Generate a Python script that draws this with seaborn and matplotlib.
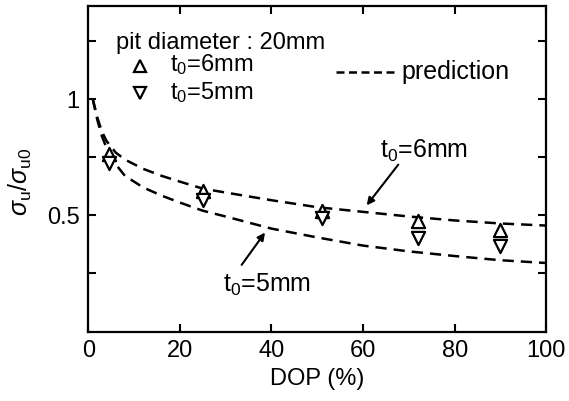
import numpy as np
import pandas as pd
import matplotlib
matplotlib.use("Agg")
import matplotlib.pyplot as plt
import seaborn as sns

dop_exp = [4.5, 25, 51, 72, 90]
ratio_t6 = [0.762, 0.603, 0.517, 0.474, 0.438]
ratio_t5 = [0.726, 0.568, 0.489, 0.403, 0.369]

# Prediction curves
dop_pred = [1, 2, 3, 4, 6, 8, 12, 16, 20, 25, 30, 40, 50, 60, 70, 80, 90, 100]
pred_t6 = [1.0, 0.92, 0.86, 0.82, 0.77, 0.74, 0.70, 0.67, 0.645, 0.615, 0.598,
           0.565, 0.535, 0.515, 0.495, 0.478, 0.465, 0.456]
pred_t5 = [1.0, 0.91, 0.84, 0.79, 0.72, 0.67, 0.62, 0.585, 0.555, 0.52, 0.495,
           0.443, 0.405, 0.37, 0.345, 0.325, 0.307, 0.295]

x_ticks = [0, 20, 40, 60, 80, 100]
y_ticks = [0.25, 0.5, 0.75, 1.0, 1.25]
y_tick_labels = ["", "0.5", "", "1", ""]

sns.set_style("ticks")
plt.rcParams["font.family"] = ["Liberation Sans", "DejaVu Sans"]
plt.rcParams["mathtext.fontset"] = "custom"
plt.rcParams["mathtext.rm"] = "Liberation Sans"
plt.rcParams["mathtext.it"] = "Liberation Sans:italic"
plt.rcParams["mathtext.bf"] = "Liberation Sans:bold"
plt.rcParams["text.color"] = "black"
plt.rcParams["axes.labelcolor"] = "black"
plt.rcParams["xtick.color"] = "black"
plt.rcParams["ytick.color"] = "black"

fig = plt.figure(figsize=(5.69, 4.01), dpi=100)
ax = fig.add_axes([0.155, 0.173, 0.805, 0.812])

df_pred = pd.DataFrame({
    "DOP": dop_pred * 2,
    "ratio": pred_t6 + pred_t5,
    "t0": ["6"] * len(dop_pred) + ["5"] * len(dop_pred),
})
lw = 1.8
for key in ["6", "5"]:
    sub = df_pred[df_pred["t0"] == key]
    sns.lineplot(data=sub, x="DOP", y="ratio", ax=ax, color="black", lw=lw,
                 estimator=None, sort=False)
for line in ax.get_lines():
    line.set_dashes([4.5, 2.8])

df_exp = pd.DataFrame({"DOP": dop_exp, "t6": ratio_t6, "t5": ratio_t5})
sns.scatterplot(data=df_exp, x="DOP", y="t6", ax=ax, marker="^", s=90,
                facecolor="white", edgecolor="black", linewidth=1.6, zorder=5)
sns.scatterplot(data=df_exp, x="DOP", y="t5", ax=ax, marker="v", s=90,
                facecolor="white", edgecolor="black", linewidth=1.6, zorder=5)

ax.set_xlim(0, 100)
ax.set_ylim(0, 1.4)
ax.set_xticks(x_ticks)
ax.set_xticklabels([str(v) for v in x_ticks])
ax.set_yticks(y_ticks)
ax.set_yticklabels(y_tick_labels)
ax.tick_params(direction="in", length=6, width=1.5, top=True, right=True,
               labelsize=17, pad=6, colors="black")
ax.tick_params(axis="x", top=True, labeltop=False)
for s in ax.spines.values():
    s.set_visible(True)
    s.set_linewidth(1.6)
    s.set_color("black")

ax.set_xlabel("DOP (%)", fontsize=17, labelpad=4)
ax.set_ylabel(r"$\sigma_{\mathrm{u}}/\sigma_{\mathrm{u0}}$", fontsize=18)
ax.yaxis.set_label_coords(-0.118, 0.46)

# Legend-like annotations (in axes fractions)
def fx(px):
    return (px - 88.3) / (546 - 88.3)

def fy(py):
    return (331.7 - py) / (331.7 - 6)

ax.text(fx(116), fy(43), "pit diameter : 20mm", transform=ax.transAxes,
        fontsize=17, va="center", ha="left")
ax.plot([fx(140)], [fy(66)], marker="^", ms=9, mfc="white", mec="black",
        mew=1.6, transform=ax.transAxes, ls="none")
ax.plot([fx(140)], [fy(93)], marker="v", ms=9, mfc="white", mec="black",
        mew=1.6, transform=ax.transAxes, ls="none")
ax.text(fx(170), fy(65), r"t$_0$=6mm", transform=ax.transAxes, fontsize=17,
        va="center", ha="left")
ax.text(fx(170), fy(93), r"t$_0$=5mm", transform=ax.transAxes, fontsize=17,
        va="center", ha="left")
ax.plot([fx(336), fx(397)], [fy(72), fy(72)], color="black", lw=lw,
        dashes=[3.2, 1.8], transform=ax.transAxes)
ax.text(fx(401), fy(72), "prediction", transform=ax.transAxes, fontsize=18,
        va="center", ha="left")

# Curve labels with arrows
arrow_kw = dict(arrowstyle="-|>", color="black", lw=1.5, mutation_scale=11,
                shrinkA=0, shrinkB=0)
ax.annotate("", xy=(60.8, 0.543), xytext=(67.7, 0.718), arrowprops=arrow_kw)
ax.text(73.3, 0.776, r"t$_0$=6mm", fontsize=18, ha="center", va="center")
ax.annotate("", xy=(38.6, 0.426), xytext=(33.5, 0.287), arrowprops=arrow_kw)
ax.text(39.0, 0.2, r"t$_0$=5mm", fontsize=18, ha="center", va="center")

fig.savefig("out.png", dpi=100)
